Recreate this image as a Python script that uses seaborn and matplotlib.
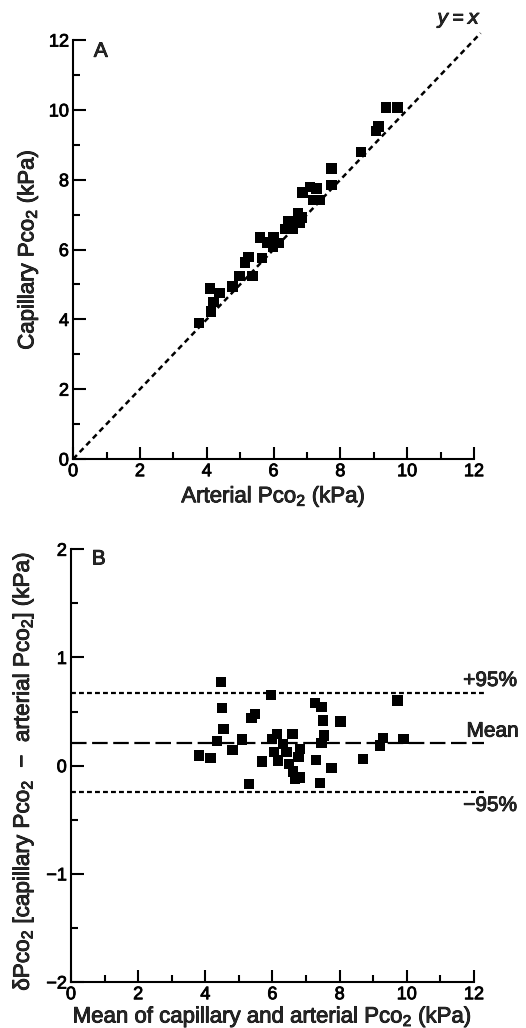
import matplotlib
matplotlib.use("Agg")
import matplotlib.pyplot as plt
import matplotlib.patheffects as pe
import seaborn as sns
import pandas as pd
from matplotlib.ticker import MultipleLocator

sns.set_theme(style="white")
plt.rcParams['font.family'] = ['Liberation Sans', 'DejaVu Sans']
plt.rcParams['mathtext.default'] = 'regular'

# Panel A data: arterial vs capillary PCO2 (kPa)
arterial = [3.77, 4.10, 4.38, 4.20, 4.13, 4.77, 4.98, 5.37, 5.15, 5.25, 5.65, 5.60,
            5.80, 6.00, 6.15, 5.98, 6.34, 6.44, 6.59, 6.59, 6.74, 6.79, 6.84, 6.87,
            7.10, 7.29, 7.19, 7.39, 7.74, 7.74, 8.62, 9.07, 9.14, 9.37, 9.71]
capillary = [3.90, 4.88, 4.75, 4.50, 4.23, 4.94, 5.24, 5.24, 5.63, 5.78, 5.75, 6.35,
             6.20, 6.35, 6.18, 6.08, 6.58, 6.80, 6.75, 6.58, 7.04, 6.77, 6.92, 7.63,
             7.80, 7.75, 7.42, 7.42, 8.32, 7.85, 8.80, 9.40, 9.52, 10.07, 10.07]

# Panel B data: mean vs difference
mean_pco2 = [3.82, 4.16, 4.34, 4.46, 4.49, 4.54, 4.81, 5.10, 5.30, 5.38, 5.48, 5.68,
             5.95, 5.98, 6.05, 6.13, 6.17, 6.32, 6.42, 6.50, 6.60, 6.62, 6.67, 6.77,
             6.82, 6.82, 7.26, 7.29, 7.41, 7.46, 7.46, 7.51, 7.53, 7.76, 8.03, 8.70,
             9.20, 9.30, 9.72, 9.90]
diff_pco2 = [0.094, 0.069, 0.226, 0.774, 0.534, 0.337, 0.146, 0.242, -0.168, 0.439,
             0.479, 0.038, 0.654, 0.248, 0.125, 0.294, 0.048, 0.202, 0.125, 0.017,
             0.294, -0.054, -0.120, 0.079, -0.110, 0.155, 0.580, 0.054, -0.159, 0.540,
             0.208, 0.417, 0.279, -0.020, 0.408, 0.063, 0.186, 0.257, 0.602, 0.248]

identity_x = [0, 12.2]
limit_x = [0, 12.4]
mean_x = [0, 12.3]
mean_diff = 0.21
upper_95 = 0.67
lower_95 = -0.245

df_a = pd.DataFrame({"arterial": arterial, "capillary": capillary})
df_b = pd.DataFrame({"mean": mean_pco2, "diff": diff_pco2})

fig = plt.figure(figsize=(5.26, 10.28), dpi=100)
axA = fig.add_axes([0.139, 0.5535, 0.762, 0.4075])
axB = fig.add_axes([0.135, 0.0447, 0.766, 0.421])

tick_fs = 13
label_fs = 16
heavy = [pe.withStroke(linewidth=0.6, foreground="black")]


def style_axes(ax):
    for side in ["top", "right"]:
        ax.spines[side].set_visible(False)
    for side in ["left", "bottom"]:
        ax.spines[side].set_linewidth(1.5)
        ax.spines[side].set_color("black")
    ax.tick_params(which="major", direction="in", length=9, width=1.5,
                   labelsize=tick_fs, colors="black", pad=3)
    ax.tick_params(which="minor", direction="in", length=5, width=1.5, colors="black")
    ax.tick_params(axis="both", which="both", left=True, bottom=True)
    ax.set_facecolor("white")
    for lbl in ax.get_xticklabels() + ax.get_yticklabels():
        lbl.set_path_effects(heavy)


# Panel A
sns.scatterplot(data=df_a, x="arterial", y="capillary", ax=axA, marker="s",
                s=56, color="black", edgecolor="none", linewidth=0, zorder=3)
axA.plot(identity_x, identity_x, color="black", lw=1.8, ls=(0, (2.2, 1.6)),
         clip_on=False, zorder=2)
axA.set_xlim(0, 12)
axA.set_ylim(0, 12)
axA.xaxis.set_major_locator(MultipleLocator(2))
axA.xaxis.set_minor_locator(MultipleLocator(1))
axA.yaxis.set_major_locator(MultipleLocator(2))
axA.yaxis.set_minor_locator(MultipleLocator(1))
style_axes(axA)
axA.set_xlabel("Arterial Pco$_2$ (kPa)", fontsize=label_fs, labelpad=3,
               path_effects=heavy)
axA.set_ylabel("Capillary Pco$_2$ (kPa)", fontsize=label_fs, labelpad=6,
               path_effects=heavy)
axA.text(0.62, 11.68, "A", fontsize=15, va="center", ha="left", path_effects=heavy)
axA.text(10.9, 12.57, "$\\mathit{y} = \\mathit{x}$", fontsize=14, va="center",
         ha="left", clip_on=False, path_effects=heavy)

# Panel B
sns.scatterplot(data=df_b, x="mean", y="diff", ax=axB, marker="s",
                s=56, color="black", edgecolor="none", linewidth=0, zorder=3)
axB.plot(limit_x, [upper_95, upper_95], color="black", lw=1.6, ls=(0, (2.2, 1.4)),
         clip_on=False, zorder=2)
axB.plot(limit_x, [lower_95, lower_95], color="black", lw=1.6, ls=(0, (2.2, 1.4)),
         clip_on=False, zorder=2)
axB.plot(mean_x, [mean_diff, mean_diff], color="black", lw=1.6, ls=(0, (7, 2.5)),
         clip_on=False, zorder=2)
axB.set_xlim(0, 12)
axB.set_ylim(-2, 2)
axB.xaxis.set_major_locator(MultipleLocator(2))
axB.xaxis.set_minor_locator(MultipleLocator(1))
axB.yaxis.set_minor_locator(MultipleLocator(0.5))
axB.set_yticks([-2, -1, 0, 1, 2])
axB.set_yticklabels(["\u22122", "\u22121", "0", "1", "2"])
style_axes(axB)
axB.set_xlabel("Mean of capillary and arterial Pco$_2$ (kPa)", fontsize=label_fs,
               labelpad=1, path_effects=heavy)
axB.set_ylabel("\u03b4Pco$_2$ [capillary Pco$_2$  \u2212  arterial Pco$_2$] (kPa)",
               fontsize=16.2, path_effects=heavy)
axB.yaxis.set_label_coords(-0.087, 0.487)
axB.text(0.62, 1.91, "B", fontsize=15, va="center", ha="left", path_effects=heavy)
axB.text(11.68, 0.787, "+95%", fontsize=15, va="center", ha="left", clip_on=False,
         path_effects=heavy)
axB.text(11.78, 0.319, "Mean", fontsize=15, va="center", ha="left", clip_on=False,
         path_effects=heavy)
axB.text(11.68, -0.368, "\u221295%", fontsize=15, va="center", ha="left",
         clip_on=False, path_effects=heavy)

fig.savefig("out.png", dpi=100, facecolor="white")
